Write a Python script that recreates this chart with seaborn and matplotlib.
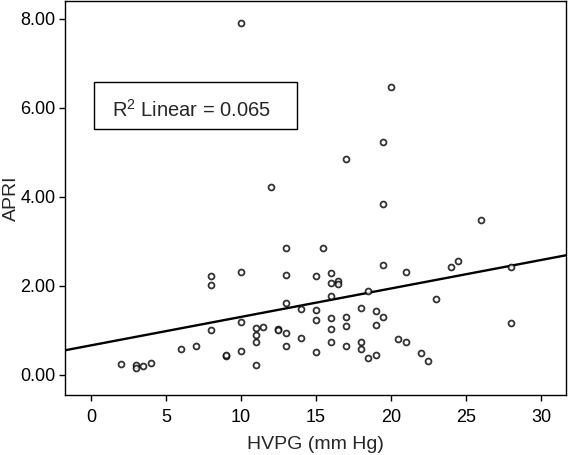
import matplotlib
matplotlib.use("Agg")
import matplotlib.pyplot as plt
import seaborn as sns
import pandas as pd

hvpg = [2, 3, 3, 3.5, 4, 6, 7, 8, 8, 8, 9, 9, 10, 10, 10, 10, 11, 11.5, 11, 11, 11,
        12, 12.5, 12.5, 13, 13, 13, 13, 13, 14, 14, 15.5, 15, 15, 15, 15,
        16, 16, 16, 16, 16, 16, 16.5, 16.5, 17, 17, 17, 17, 18, 18, 18, 18.5, 18.5,
        19, 19, 19, 19.5, 19.5, 19.5, 19.5, 20, 20.5, 21, 21, 22, 22.5, 23, 24, 24.5,
        26, 28, 28]
apri = [0.25, 0.22, 0.16, 0.21, 0.28, 0.58, 0.64, 2.22, 2.01, 1.00, 0.43, 0.45, 7.90, 2.31,
        1.20, 0.53, 1.06, 1.07, 0.89, 0.73, 0.22, 4.22, 1.03, 1.02, 2.86, 2.25, 1.62, 0.95,
        0.64, 1.48, 0.82, 2.86, 2.22, 1.45, 1.24, 0.51, 2.29, 2.06, 1.78, 1.29, 1.04, 0.73,
        2.11, 2.05, 4.85, 1.30, 1.09, 0.64, 1.50, 0.73, 0.58, 1.88, 0.37, 1.43, 1.12, 0.44,
        5.24, 3.83, 2.48, 1.30, 6.47, 0.81, 2.32, 0.73, 0.50, 0.32, 1.71, 2.43, 2.55, 3.48,
        2.42, 1.16]
r2_text = "R$^2$ Linear = 0.065"
x_ticks = [0, 5, 10, 15, 20, 25, 30]
y_ticks = [0, 2, 4, 6, 8]

df = pd.DataFrame({"HVPG": hvpg, "APRI": apri})

sns.set_style("ticks")
plt.rcParams["font.family"] = ["Liberation Sans", "DejaVu Sans"]
plt.rcParams["mathtext.fontset"] = "custom"
plt.rcParams["mathtext.rm"] = "Liberation Sans"

fig = plt.figure(figsize=(5.68, 4.55), dpi=100)
ax = fig.add_axes([65 / 568, 1 - 395 / 455, (566 - 65) / 568, (395 - 1) / 455])

ax.set_xlim(-1.73, 31.67)
ax.set_ylim(-0.45, 8.40)
sns.regplot(data=df, x="HVPG", y="APRI", ax=ax, ci=None, truncate=False,
            scatter_kws=dict(s=18, facecolors="white", edgecolors="black", linewidths=1.3, zorder=3),
            line_kws=dict(color="black", lw=1.7, zorder=2))
ax.set_xlim(-1.73, 31.67)
ax.set_ylim(-0.45, 8.40)

ax.set_xticks(x_ticks)
ax.set_yticks(y_ticks)
ax.set_yticklabels([f"{v:.2f}" for v in y_ticks])
ax.tick_params(axis="both", labelsize=13, length=4, width=1, color="black", labelcolor="black")
ax.tick_params(axis="x", pad=6)
ax.tick_params(axis="y", pad=3)
for s in ax.spines.values():
    s.set_color("black")
    s.set_linewidth(1.0)

ax.set_xlabel("HVPG (mm Hg)", fontsize=14, labelpad=7)
ax.set_ylabel("APRI", fontsize=14, labelpad=0)

fig.text(112 / 568, 1 - 110 / 455, r2_text, fontsize=14.5, va="center", ha="left")
rect = plt.Rectangle((94 / 568, 1 - 129 / 455), (297 - 94) / 568, (129 - 82) / 455,
                     transform=fig.transFigure, fill=False, edgecolor="black", lw=1.0)
fig.add_artist(rect)

fig.savefig("out.png", dpi=100, facecolor="white")
